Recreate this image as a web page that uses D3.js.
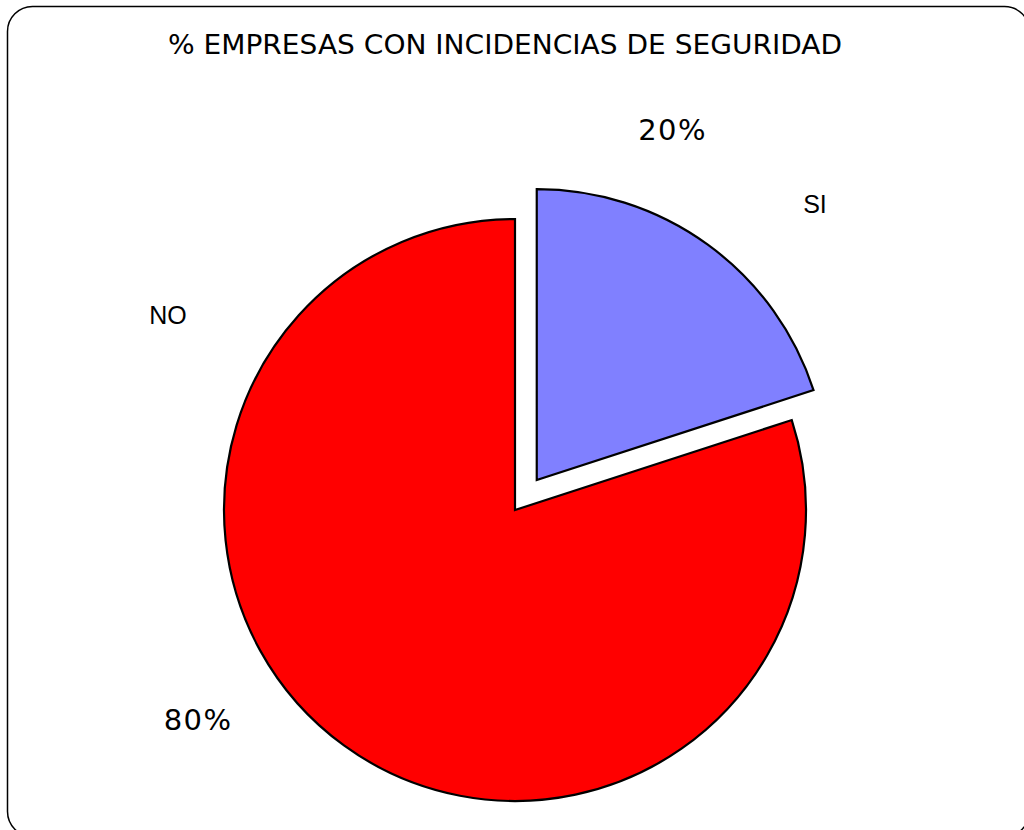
<!DOCTYPE html>
<html>
<head>
<meta charset="utf-8">
<script src="https://cdn.jsdelivr.net/npm/d3@7"></script>
<style>
  body { margin: 0; background: #fff; }
  svg { display: block; }
</style>
</head>
<body>
<script>
// chart data
var categories = ["SI", "NO"];
var values = [20, 80];
var pctLabels = ["20%", "80%"];
var colors = ["#8080ff", "#ff0000"];
var title = "% EMPRESAS CON INCIDENCIAS DE SEGURIDAD";

var width = 1024, height = 830;
var cx = 515, cy = 510, radius = 291;
var explode = 37;

var svg = d3.select("body")
  .append("svg")
    .attr("width", width)
    .attr("height", height);

// frame
svg.append("rect")
  .attr("x", 7.5)
  .attr("y", 6.5)
  .attr("width", 1022)
  .attr("height", 830)
  .attr("rx", 25)
  .attr("fill", "none")
  .attr("stroke", "#000")
  .attr("stroke-width", 1.5);

svg.append("text")
  .attr("x", 505)
  .attr("y", 54)
  .attr("text-anchor", "middle")
  .attr("textLength", 674)
  .attr("lengthAdjust", "spacingAndGlyphs")
  .style("font-family", "'Liberation Sans Narrow', 'DejaVu Sans Condensed', 'Liberation Sans', sans-serif")
  .style("font-size", "27px")
  .style("font-weight", 300)
  .text(title);

var data = categories.map(function(c, i) { return {cat: c, value: values[i], pct: pctLabels[i], color: colors[i]}; });

var pie = d3.pie()
  .sort(null)
  .value(function(d) { return d.value; });

var arc = d3.arc()
  .innerRadius(0)
  .outerRadius(radius);

var arcs = pie(data);

var g = svg.append("g")
  .attr("transform", "translate(" + cx + "," + cy + ")");

g.selectAll("path")
  .data(arcs)
  .enter()
  .append("path")
    .attr("d", arc)
    .attr("fill", function(d) { return d.data.color; })
    .attr("stroke", "#000")
    .attr("stroke-width", 2.2)
    .attr("stroke-linejoin", "miter")
    .attr("transform", function(d) {
      if (d.data.cat !== "SI") return null;
      var a = (d.startAngle + d.endAngle) / 2;
      return "translate(" + (Math.sin(a) * explode) + "," + (-Math.cos(a) * explode) + ")";
    });

// label placement (angle in degrees from top, distance from centre)
var catPos = {SI: [44.5, 428], NO: [299.3, 398]};
var pctPos = {SI: [22.5, 412], NO: [236.5, 380]};

function polar(p) {
  var a = p[0] * Math.PI / 180;
  return [Math.sin(a) * p[1], -Math.cos(a) * p[1]];
}

g.selectAll("text.cat")
  .data(arcs)
  .enter()
  .append("text")
    .attr("class", "cat")
    .attr("x", function(d) { return polar(catPos[d.data.cat])[0]; })
    .attr("y", function(d) { return polar(catPos[d.data.cat])[1]; })
    .attr("text-anchor", "middle")
    .attr("dy", "0.35em")
    .style("font-family", "'Liberation Sans', Arial, sans-serif")
    .style("font-size", "25px")
    .text(function(d) { return d.data.cat; });

g.selectAll("text.pct")
  .data(arcs)
  .enter()
  .append("text")
    .attr("class", "pct")
    .attr("x", function(d) { return polar(pctPos[d.data.cat])[0]; })
    .attr("y", function(d) { return polar(pctPos[d.data.cat])[1]; })
    .attr("text-anchor", "middle")
    .attr("dy", "0.35em")
    .style("font-family", "'DejaVu Sans', Verdana, sans-serif")
    .style("font-size", "29px")
    .style("letter-spacing", "1.5px")
    .text(function(d) { return d.data.pct; });
</script>
</body>
</html>
